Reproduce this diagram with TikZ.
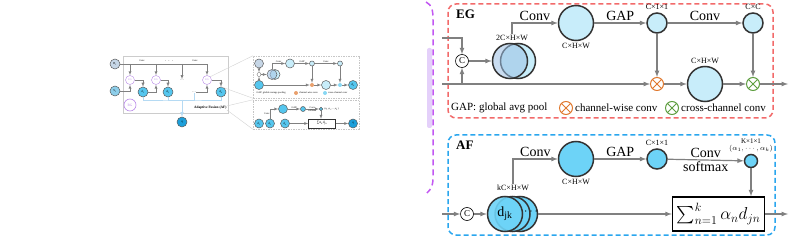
\documentclass[tikz,border=0pt]{standalone}
\usepackage{exscale}
\usepackage{fontspec}
\setmainfont{Liberation Serif}
\usepackage{xcolor}
\usepackage{tikz}
\usetikzlibrary{shapes,arrows,positioning,fit,calc}

\definecolor{edgec}{HTML}{333333}
\definecolor{lineg}{HTML}{808080}
\definecolor{lightc}{HTML}{C8EDFA}
\definecolor{brightc}{HTML}{6DD3F7}
\definecolor{stackc}{HTML}{9CC0E4}
\definecolor{egred}{HTML}{F26A6A}
\definecolor{afblue}{HTML}{2AA6EE}
\definecolor{purp}{HTML}{C257F2}
\definecolor{lavend}{HTML}{E4D0FA}
\definecolor{orangec}{HTML}{E0782E}
\definecolor{greenc}{HTML}{5E9E40}
\definecolor{grayblue}{HTML}{C6D6E6}
\definecolor{thumbc}{HTML}{55C6EE}
\definecolor{deepc}{HTML}{1C9FDA}
\definecolor{egpurp}{HTML}{B98AE8}
\definecolor{busc}{HTML}{B5DAF3}

\begin{document}
\begin{tikzpicture}[
        x=1pt, y=-1pt,
        feat/.style={circle, draw=edgec, line width=1.5pt, fill=lightc, minimum size=35pt, inner sep=0pt},
        vec/.style={circle, draw=edgec, line width=1.5pt, fill=lightc, minimum size=20pt, inner sep=0pt},
        concat/.style={circle, draw=black, line width=0.6pt, fill=white, minimum size=13pt, inner sep=0pt, font=\fontsize{9}{9}\selectfont},
        mult/.style={circle, draw=#1, line width=1pt, fill=white, minimum size=13pt, inner sep=0pt,
            path picture={\draw[#1, line width=1pt] (path picture bounding box.north west) -- (path picture bounding box.south east)
                (path picture bounding box.north east) -- (path picture bounding box.south west);}},
        dim/.style={font=\fontsize{8}{8}\selectfont, inner sep=1pt},
        op/.style={font=\fontsize{14}{14}\selectfont, inner sep=1.5pt},
        legend/.style={font=\fontsize{11}{11}\selectfont, inner sep=0pt},
        title/.style={font=\bfseries\fontsize{13}{13}\selectfont, inner sep=0pt, anchor=west},
        arrow/.style={->, >=latex, line width=1.2pt, draw=lineg},
        line/.style={line width=1.2pt, draw=lineg},
        tnode/.style={circle, draw=edgec!80, line width=0.5pt, minimum size=10pt, inner sep=0pt, font=\fontsize{3}{3}\selectfont},
        teg/.style={circle, draw=egpurp, line width=0.4pt, fill=white, minimum size=9pt, inner sep=0pt, font=\fontsize{2.5}{3}\selectfont, text=egpurp},
        tmult/.style={circle, fill=#1, minimum size=4pt, inner sep=0pt},
        ttext/.style={font=\fontsize{2.5}{3}\selectfont, inner sep=0.3pt},
        tarrow/.style={->, >=latex, line width=0.4pt, draw=lineg},
        tbus/.style={line width=0.6pt, draw=busc},
        tcall/.style={line width=0.4pt, draw=gray!35},
        tpanel/.style={draw=gray!45, dash pattern=on 1.5pt off 1pt, line width=0.4pt, inner sep=0pt}
    ]
    
    \useasboundingbox (0,0) rectangle (789,240);
    
    % Overview: whole network
    \draw[line width=0.5pt, draw=gray!40] (123,56) rectangle (228,113);
    \node[tnode, fill=grayblue] (tD) at (115,64) {D\textsubscript{1}};
    \node[tnode, fill=grayblue!50!thumbc] (tS) at (115,91) {S\textsubscript{1}};
    \node[teg] (teg1) at (130,80) {EG};
    \node[teg] (teg2) at (156,80) {EG};
    \node[teg] (teg3) at (207,80) {EG};
    \node[tnode, fill=thumbc] (td1) at (143,92) {d\textsubscript{1}};
    \node[tnode, fill=thumbc] (td2) at (168,92) {d\textsubscript{2}};
    \node[tnode, fill=thumbc] (tdk) at (221,92) {d\textsubscript{k}};
    \node[ttext] (tdots1) at (182,80) {- - -};
    \node[ttext] (tdots2) at (194,92) {- - -};
    \node[teg, minimum size=12pt, line width=0.6pt, font=\fontsize{3.5}{4}\selectfont] (trg) at (130,105) {RG};
    \node[ttext, font=\bfseries\fontsize{3.5}{4}\selectfont, anchor=east] (taf) at (227,108) {Adaptive Fusion (AF)};
    \node[tnode, fill=deepc] (tq) at (182,122) {q};
    \coordinate (tbus) at (182,100);
    \node[ttext] at (142,61) {Conv};
    \node[ttext] at (169,61) {$\cdots$};
    \node[ttext] at (195,61) {Conv};
    
    \draw[tarrow] (tD) -| (teg3);
    \draw[tarrow] (teg1 |- tD) -- (teg1);
    \draw[tarrow] (teg2 |- tD) -- (teg2);
    \draw[tarrow] (tdots1 |- tD) -- (tdots1);
    \draw[tarrow] (tS) -| (teg1);
    \draw[tarrow] (teg1) -| (td1);
    \draw[tarrow] (td1) -| (teg2);
    \draw[tarrow] (teg2) -| (td2);
    \draw[tarrow] (tdots2) -| (teg3);
    \draw[tarrow] (teg3) -| (tdk);
    \draw[tbus] (td1) |- (tbus) -| (tdk);
    \draw[tbus] (td2) |- (tbus);
    \draw[tbus] (tdots2) |- (tbus);
    \draw[tbus, ->, >=latex] (tbus) -- (tq);
    
    % Overview: EG panel
    \node[tpanel, minimum width=106pt, minimum height=42pt] (tp1) at (306,77) {};
    \node[tnode, fill=grayblue, minimum size=9pt] (tpD) at (259,63.5) {};
    \node[tnode, fill=thumbc, minimum size=9pt] (tpS) at (259,85) {};
    \node[tnode, fill=white, minimum size=4pt, line width=0.3pt] (tpc) at (259,74.5) {};
    \node[tnode, fill=lightc] (tps2) at (275,74.5) {};
    \node[tnode, fill=stackc, fill opacity=0.55] (tps1) at (272,74.5) {};
    \node[tnode, fill=lightc, minimum size=9pt] (tpconv) at (290,63.5) {};
    \node[tnode, fill=lightc, minimum size=5pt] (tpg) at (312,63.5) {};
    \node[tnode, fill=lightc, minimum size=5pt] (tpg2) at (340,63.5) {};
    \node[tmult=orangec!70] (tpcw) at (312,85) {};
    \node[tnode, fill=lightc, minimum size=9pt] (tpbig) at (326,85) {};
    \node[tmult=thumbc!70] (tpxw) at (340,85) {};
    \node[tnode, fill=thumbc, minimum size=9pt] (tpdk) at (353,85) {d\textsubscript{k}};
    \draw[tarrow] (tpD) -- (tpc);
    \draw[tarrow] (tpS) -- (tpc);
    \draw[tarrow] (tpc) -- (tps1);
    \draw[tarrow] (tps1.north) |- node[ttext, pos=0.75, above] {Conv} (tpconv);
    \draw[tarrow] (tpconv) -- node[ttext, above] {GAP} (tpg);
    \draw[tarrow] (tpg) -- node[ttext, above] {Conv} (tpg2);
    \draw[tarrow] (tpS) -- (tpcw);
    \draw[tarrow] (tpg) -- (tpcw);
    \draw[tarrow] (tpcw) -- (tpbig);
    \draw[tarrow] (tpbig) -- (tpxw);
    \draw[tarrow] (tpg2) -- (tpxw);
    \draw[tarrow] (tpxw) -- (tpdk);
    \node[ttext, anchor=west] at (256,93) {GAP: global average pooling};
    \node[tmult=orangec!70] (tplg1) at (296,93) {};
    \node[ttext, right=0.5pt of tplg1] {channel-wise conv};
    \node[tmult=thumbc!70] (tplg2) at (325,93) {};
    \node[ttext, right=0.5pt of tplg2] {cross-channel conv};
    
    % Overview: AF panel
    \node[tpanel, minimum width=106pt, minimum height=29pt] (tp2) at (306,114.5) {};
    \node[tnode, fill=thumbc, minimum size=9pt] (tqd1) at (259,123.5) {d\textsubscript{1}};
    \node[tnode, fill=thumbc, minimum size=9pt] (tqd2) at (270,123.5) {d\textsubscript{2}};
    \node[tnode, fill=thumbc, minimum size=9pt] (tqdk) at (285,123.5) {d\textsubscript{k}};
    \node[tnode, fill=thumbc, minimum size=9pt] (tqc) at (283,109) {};
    \node[tnode, fill=thumbc, minimum size=5pt] (tqg) at (303,109) {};
    \node[tnode, fill=thumbc, minimum size=3.5pt] (tqa) at (321,109) {};
    \node[ttext, right=1pt of tqa] {(α\textsubscript{1},α\textsubscript{2},…,α\textsubscript{k})};
    \node[draw=edgec, line width=0.4pt, minimum width=27pt, minimum height=9pt, inner sep=0pt, font=\fontsize{3.5}{4}\selectfont] (tqsum) at (322,123.5) {∑α\textsubscript{n}d\textsubscript{jn}};
    \node[tnode, fill=deepc, minimum size=9pt] (tqq) at (353,123.5) {q};
    \draw[tarrow] (tqd2.north) |- node[ttext, pos=0.25, left] {Conv} (tqc);
    \draw[tarrow] (tqc) -- node[ttext, above] {GAP} (tqg);
    \draw[tarrow] (tqg) -- node[ttext, above] {Conv} node[ttext, below] {softmax} (tqa);
    \draw[tarrow] (tqdk) -- (tqsum);
    \draw[tarrow] (tqa) -- (tqa |- tqsum.north);
    \draw[tarrow] (tqsum) -- (tqq);
    
    % Overview: callout lines
    \draw[tcall] (teg3.north east) -- (tp1.north west);
    \draw[tcall] (tdk.north) -- (tp1.south west);
    \draw[tcall] (taf.north east) -- (tp2.north west);
    \draw[tcall] (taf.south east) -- (tp2.south west);
    
    % Zoom bracket
    \fill[lavend, rounded corners=2pt] (427,48) rectangle (432,128);
    \draw[purp, line width=1.5pt, dash pattern=on 6pt off 4pt] (426,2) .. controls (432,5) and (433,10) .. (433,20) -- (433,178) .. controls (433,186) and (431,189) .. (427,193);
    
    % EG block
    \draw[egred, line width=1.5pt, dash pattern=on 5pt off 3pt, rounded corners=8pt] (448,4) rectangle (773,118);
    \node[title] (egtitle) at (456,14) {EG};
    \coordinate (in1) at (442,38);
    \coordinate (in2) at (442,84);
    \node[concat] (cat1) at (462,61) {C};
    \coordinate (j1) at (462,84);
    \node[feat] (egb) at (518,61) {};
    \node[feat, fill=stackc, fill opacity=0.55] (ega) at (510,61) {};
    \node[dim] (egdim) at (512,38) {2C×H×W};
    \node[feat] (egc) at (576,23) {};
    \node[dim, below=1pt of egc] {C×H×W};
    \node[vec] (gap1) at (657,23) {};
    \node[dim, above=1pt of gap1] {C×1×1};
    \node[vec] (gap2) at (753,23) {};
    \node[dim, above=1pt of gap2] {C×C};
    \node[mult=orangec] (cw) at (657,84) {};
    \node[feat] (egd) at (705,84) {};
    \node[dim, above=1pt of egd] {C×H×W};
    \node[mult=greenc] (xw) at (753,84) {};
    \coordinate (out1) at (788,84);
    
    \draw[arrow] (in1) -| (cat1);
    \draw[arrow] (j1) -- (cat1);
    \draw[arrow] (cat1) -- (ega);
    \draw[arrow] (in2) -- (cw);
    \draw[arrow] (egdim.north) |- node[op, pos=0.75, above] {Conv} (egc);
    \draw[arrow] (egc) -- node[op, above] {GAP} (gap1);
    \draw[arrow] (gap1) -- node[op, above] {Conv} (gap2);
    \draw[arrow] (gap1) -- (cw);
    \draw[arrow] (gap2) -- (xw);
    \draw[arrow] (cw) -- (egd);
    \draw[arrow] (egd) -- (xw);
    \draw[arrow] (xw) -- (out1);
    
    % EG legend
    \node[legend, anchor=west] (lg1) at (451,108) {GAP: global avg pool};
    \node[mult=orangec] (lg2) at (566,108) {};
    \node[legend, right=2pt of lg2] (lg3) {channel-wise conv};
    \node[mult=greenc] (lg4) at (672,108) {};
    \node[legend, right=2pt of lg4] (lg5) {cross-channel conv};
    
    % AF block
    \draw[afblue, line width=1.5pt, dash pattern=on 5pt off 3pt, rounded corners=8pt] (448,135) rectangle (775,235);
    \node[title] (aftitle) at (456,145) {AF};
    \coordinate (in3) at (442,214);
    \node[concat] (cat2) at (467,214) {C};
    \node[feat, fill=brightc] (af3) at (520,214) {};
    \node[feat, fill=brightc] (af2) at (512.5,214) {};
    \node[feat, fill=brightc, fill opacity=0.9, text opacity=1, font=\fontsize{14}{14}\selectfont] (af1) at (505,214) {d\textsubscript{jk}};
    \node[font=\bfseries\fontsize{12}{12}\selectfont, inner sep=0pt] (afdots) at (531,212) {$\cdots$};
    \node[dim] (afdim) at (513,188) {kC×H×W};
    \node[feat, fill=brightc] (afc) at (576,159) {};
    \node[dim, below=1pt of afc] {C×H×W};
    \node[vec, fill=brightc] (afg) at (657,159) {};
    \node[dim, above=1pt of afg] {C×1×1};
    \node[vec, fill=brightc, minimum size=13pt] (afa) at (751,161) {};
    \node[dim, font=\fontsize{7}{7.5}\selectfont, align=center, above=0pt of afa] {K×1×1\\$(\alpha_1,\cdots,\alpha_k)$};
    \node[draw=black, line width=1.5pt, minimum width=92pt, minimum height=34pt, inner sep=0pt, font=\LARGE] (sumbox) at (718.5,214) {$\textstyle\sum_{n=1}^{k}\alpha_n d_{jn}$};
    \coordinate (j2) at (sumbox.north -| afa);
    \coordinate (out2) at (788,214);
    
    \draw[arrow] (in3) -- (cat2);
    \draw[arrow] (cat2) -- (af1);
    \draw[arrow] (afdim.north) |- node[op, pos=0.75, above] {Conv} (afc);
    \draw[arrow] (afc) -- node[op, above] {GAP} (afg);
    \draw[arrow] (afg) -- node[op, above] {Conv} node[op, below] {softmax} (afa);
    \draw[arrow] (afa) -- (j2);
    \draw[arrow] (af3) -- (sumbox);
    \draw[arrow] (sumbox) -- (out2);
    
\end{tikzpicture}
\end{document}
